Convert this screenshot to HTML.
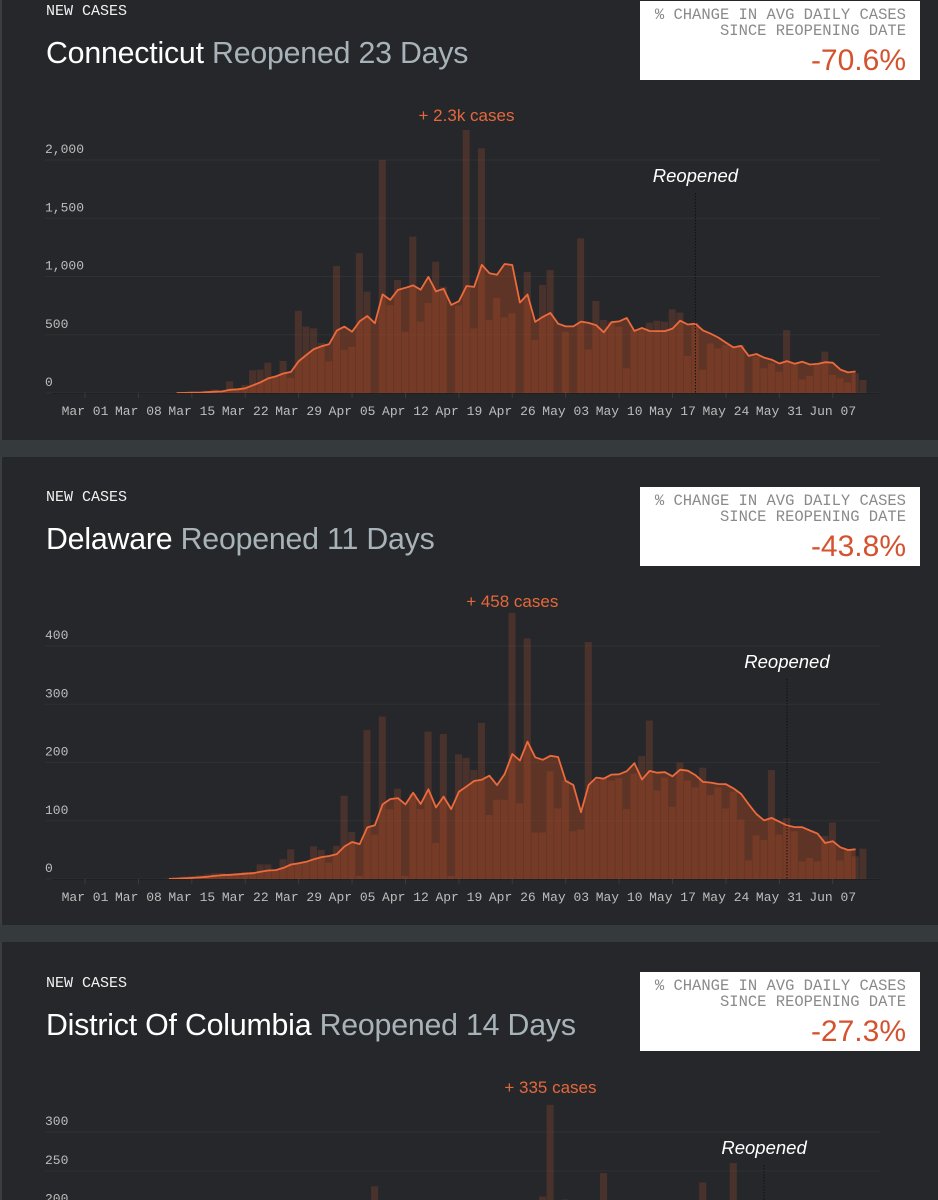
<!DOCTYPE html>
<html><head><meta charset="utf-8">
<style>
html,body{margin:0;padding:0;width:938px;height:1200px;overflow:hidden;background:#353a3d;}
.panel{position:absolute;left:0;width:938px;background:#26272a;border-left:2px solid #3b3e41;box-sizing:border-box;}
.hdr{position:absolute;left:46px;font-family:"Liberation Mono",monospace;font-size:15px;color:#f2f2f2;line-height:18px;}
.title{position:absolute;left:46px;font-family:"Liberation Sans",sans-serif;font-size:30.3px;line-height:36px;color:#fff;white-space:nowrap;letter-spacing:-0.2px;}
.title span{color:#a7b3b8;}
.box{position:absolute;left:640px;width:280px;height:79px;background:#fff;}
.box .l{position:absolute;right:14px;font-family:"Liberation Mono",monospace;font-size:15.5px;color:#8a8a8a;line-height:16px;white-space:nowrap;}
.box .p{position:absolute;right:14px;top:42px;font-family:"Liberation Sans",sans-serif;font-size:30px;line-height:36px;color:#d4532e;}
svg{position:absolute;left:0;}
</style></head><body>

<div class="panel" style="top:-29px;height:469px;"></div>
<div class="panel" style="top:457px;height:468px;"></div>
<div class="panel" style="top:942px;height:258px;"></div>

<div class="hdr" style="top:3px;">NEW CASES</div>
<div class="title" style="top:36px;">Connecticut <span>Reopened 23 Days</span></div>
<div class="box" style="top:1px;">
  <div class="l" style="top:6px;">% CHANGE IN AVG DAILY CASES</div>
  <div class="l" style="top:22px;">SINCE REOPENING DATE</div>
  <div class="p">-70.6%</div>
</div>

<div class="hdr" style="top:489px;">NEW CASES</div>
<div class="title" style="top:522px;">Delaware <span>Reopened 11 Days</span></div>
<div class="box" style="top:487px;">
  <div class="l" style="top:6px;">% CHANGE IN AVG DAILY CASES</div>
  <div class="l" style="top:22px;">SINCE REOPENING DATE</div>
  <div class="p">-43.8%</div>
</div>

<div class="hdr" style="top:975px;">NEW CASES</div>
<div class="title" style="top:1008px;">District Of Columbia <span>Reopened 14 Days</span></div>
<div class="box" style="top:972px;">
  <div class="l" style="top:6px;">% CHANGE IN AVG DAILY CASES</div>
  <div class="l" style="top:22px;">SINCE REOPENING DATE</div>
  <div class="p">-27.3%</div>
</div>

<svg id="c1" width="938" height="440" style="top:0px"></svg>
<svg id="c2" width="938" height="439" style="top:486px"></svg>
<svg id="c3" width="938" height="228" style="top:972px"></svg>

<script>
// day index 0 = Mar 01
const tickLabels = ["Mar 01","Mar 08","Mar 15","Mar 22","Mar 29","Apr 05","Apr 12","Apr 19","Apr 26","May 03","May 10","May 17","May 24","May 31","Jun 07"];
const tickDays = [0,7,14,21,28,35,42,49,56,63,70,77,84,91,98];

const ctCases = [0,0,0,0,0,0,0,0,0,0,0,0,2,5,10,10,20,30,20,100,30,70,195,200,260,140,275,130,706,570,555,430,270,1090,370,396,1200,870,0,2000,755,970,526,1342,612,773,1127,912,0,750,2257,555,2100,627,815,650,684,0,1040,455,927,1055,0,526,0,1327,375,790,627,612,570,212,546,555,604,621,612,718,690,318,600,200,426,383,412,398,412,0,312,212,255,183,540,260,117,146,250,355,155,126,89,169,112];
const ctTicks = [0,500,1000,1500,2000];

const deCases = [0,0,0,0,0,0,0,0,0,0,0,1,3,4,5,6,8,10,10,8,10,12,12,25,25,15,34,51,27,30,56,50,28,57,143,81,5,256,76,279,120,155,5,146,120,253,62,249,5,214,208,187,268,110,136,136,457,130,413,80,80,185,121,170,82,85,407,169,173,169,173,120,181,211,272,152,174,124,200,169,157,191,144,157,121,150,102,32,75,67,187,76,105,82,30,36,30,74,97,32,49,39,52];
const deTicks = [0,100,200,300,400];

const dcCases = [0,0,0,0,0,0,0,1,2,3,5,6,8,10,15,18,20,25,30,40,45,50,55,60,70,75,80,90,95,100,110,120,130,140,150,160,170,155,230,165,150,160,175,180,170,160,150,165,170,180,175,160,150,140,165,175,180,185,170,160,217,335,180,213,170,160,150,140,247,150,160,170,155,140,130,120,140,150,160,130,120,235,120,110,100,260,100,90,80,85,75,70,80,65,70,60,55,65,60,50,45,50,40];
const dcTicks = [0,50,100,150,200,250,300];

const NS = "http://www.w3.org/2000/svg";
function mk(svg, tag, attrs){ const e=document.createElementNS(NS,tag); for(const k in attrs) e.setAttribute(k,attrs[k]); svg.appendChild(e); return e; }
function fmt(v){ return v.toLocaleString("en-US"); }

function drawChart(id, cases, ticks, reopenDay, peakText){
  const svg = document.getElementById(id);
  const base = 393, topPx = 160;
  const yMax = ticks[ticks.length-1];
  const x = d => 85 + d*7.63;
  const y = v => base - v*(base-topPx)/yMax;
  const bw = 7.63;
  ticks.forEach(t=>{
    const g = mk(svg,"line",{x1:45,x2:880,y1:y(t),y2:y(t),stroke:"#2f3033","stroke-width":1});
    
    
    const tx = mk(svg,"text",{x:45,y:y(t)-7,fill:"#bdbdbd","font-family":"Liberation Mono, monospace","font-size":"13"});
    tx.textContent = fmt(t);
    
    
  });
  cases.forEach((v,d)=>{
    if(v<=0) return;
    const r = mk(svg,"rect",{x:x(d)-bw/2,y:y(v),width:bw-0.6,height:base-y(v),fill:"rgba(150,75,50,0.32)"});
    
    
  });
  let first = cases.findIndex(v=>v>0);
  const avg = cases.map((v,i)=>{ let s=0; for(let j=Math.max(0,i-6);j<=i;j++){s+=cases[j];} return s/7; });
  let pts = [];
  for(let d=first; d<cases.length-1; d++) pts.push([x(d), y(avg[d])]);
  const lineD = pts.map((p,i)=>(i?"L":"M")+p[0].toFixed(1)+","+p[1].toFixed(1)).join("");
  const area = mk(svg,"path",{d:lineD+"L"+pts[pts.length-1][0]+","+base+"L"+pts[0][0]+","+base+"Z",fill:"rgba(205,80,30,0.33)"});
  
  
  const ln = mk(svg,"path",{d:lineD,fill:"none",stroke:"#ec6a3c","stroke-width":1.8,"stroke-linejoin":"round"});
  
  
  const ax = mk(svg,"line",{x1:52,x2:880,y1:base+0.5,y2:base+0.5,stroke:"#1f2022","stroke-width":1});
  
  
  tickDays.forEach((d,i)=>{
    const tk = mk(svg,"line",{x1:x(d),x2:x(d),y1:base,y2:base+5,stroke:"#3a3b3e","stroke-width":1});
    
    
    const t = mk(svg,"text",{x:x(d),y:base+22,fill:"#bdbdbd","font-family":"Liberation Mono, monospace","font-size":"13","text-anchor":"middle"});
    t.textContent = tickLabels[i];
    
    
  });
  let pk = 0; cases.forEach((v,i)=>{ if(v>cases[pk]) pk=i; });
  const pt = mk(svg,"text",{x:x(pk),y:121,fill:"#e5683c","font-family":"Liberation Sans, sans-serif","font-size":"17","text-anchor":"middle"});
  pt.textContent = peakText;
  
  
  const rl = mk(svg,"line",{x1:x(reopenDay),x2:x(reopenDay),y1:193,y2:base,stroke:"#111","stroke-width":1,"stroke-dasharray":"1.5,1.5"});
  
  
  const rt = mk(svg,"text",{x:x(reopenDay),y:182,fill:"#ffffff","font-family":"Liberation Sans, sans-serif","font-size":"18.5","font-style":"italic","text-anchor":"middle"});
  rt.textContent = "Reopened";
  
  
}
drawChart("c1", ctCases, ctTicks, 80, "+ 2.3k cases");
drawChart("c2", deCases, deTicks, 92, "+ 458 cases");
drawChart("c3", dcCases, dcTicks, 89, "+ 335 cases");
</script>
</body></html>
